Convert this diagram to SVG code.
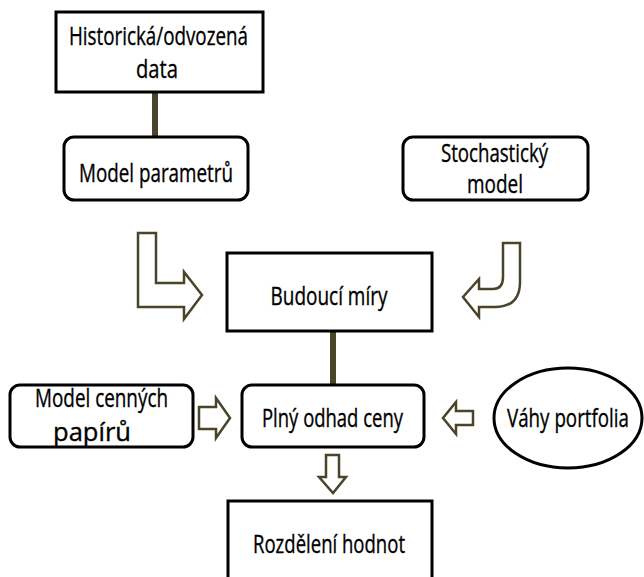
<svg xmlns="http://www.w3.org/2000/svg" width="644" height="577" viewBox="0 0 644 577">
<style>
  .box { fill: #ffffff; stroke: #000000; stroke-width: 3; }
  .t { font-family: "Open Sans", "Liberation Sans", sans-serif; font-size: 25px; fill: #000000; stroke: #000000; stroke-width: 0.35; text-anchor: middle; }
  .link { stroke: #4a452a; stroke-width: 6; fill: none; }
  .arr { fill: #ffffff; stroke: #4a452a; stroke-width: 2.5; stroke-linejoin: miter; }
</style>
<rect width="644" height="577" fill="#ffffff"/>

<g id="connectors">
  <line class="link" x1="155" y1="92" x2="155" y2="137"/>
  <line class="link" x1="333" y1="331" x2="333" y2="384"/>
  <path id="arrow-left-L" class="arr" d="M138,233 L156,233 L156,283 L184,283 L184,272 L202,295 L184,319 L184,307 L138,307 Z"/>
  <path id="arrow-right-J" class="arr" d="M503,243 L520,243 L520,282 Q520,307 495,307 L479,307 L479,317 L463,297 L479,279 L479,289 L493,289 Q503,289 503,277 Z"/>
  <path id="arrow-cenne" class="arr" d="M199,407 L216,407 L216,398 L230,418 L216,438 L216,429 L199,429 Z"/>
  <path id="arrow-vahy" class="arr" d="M473,411 L456,411 L456,402 L443,418 L456,434 L456,425 L473,425 Z"/>
  <path id="arrow-down" class="arr" d="M326,455 L339,455 L339,477 L346,477 L333,493 L319,477 L326,477 Z"/>
</g>

<g id="node-historicka">
  <rect class="box" x="56" y="12" width="207" height="80"/>
  <text class="t" x="158.5" y="45" font-size="26" textLength="179" lengthAdjust="spacingAndGlyphs">Historická/odvozená</text>
  <text class="t" x="157" y="78" font-size="26" textLength="42" lengthAdjust="spacingAndGlyphs">data</text>
</g>

<g id="node-model-parametru">
  <rect class="box" x="64" y="137" width="184" height="63" rx="10" ry="10"/>
  <text class="t" x="156" y="182" textLength="154" lengthAdjust="spacingAndGlyphs">Model parametrů</text>
</g>

<g id="node-stochasticky">
  <rect class="box" x="403" y="137" width="185" height="63" rx="10" ry="10"/>
  <text class="t" x="494.5" y="162" textLength="107" lengthAdjust="spacingAndGlyphs">Stochastický</text>
  <text class="t" x="495" y="193" textLength="56" lengthAdjust="spacingAndGlyphs">model</text>
</g>

<g id="node-budouci">
  <rect class="box" x="227" y="253" width="205" height="78"/>
  <text class="t" x="329" y="305" textLength="117" lengthAdjust="spacingAndGlyphs">Budoucí míry</text>
</g>

<g id="node-model-cennych">
  <rect class="box" x="10" y="385" width="183" height="62" rx="10" ry="10"/>
  <text class="t" x="101.5" y="407" textLength="133" lengthAdjust="spacingAndGlyphs">Model cenných</text>
  <text class="t" x="92" y="441" font-size="23" textLength="78" lengthAdjust="spacingAndGlyphs">papírů</text>
</g>

<g id="node-plny-odhad">
  <rect class="box" x="242" y="385" width="182" height="62" rx="10" ry="10"/>
  <text class="t" x="332.5" y="427" textLength="141" lengthAdjust="spacingAndGlyphs">Plný odhad ceny</text>
</g>

<g id="node-vahy">
  <ellipse class="box" cx="568" cy="418" rx="74" ry="50"/>
  <text class="t" x="568" y="427" textLength="122" lengthAdjust="spacingAndGlyphs">Váhy portfolia</text>
</g>

<g id="node-rozdeleni">
  <rect class="box" x="228" y="501" width="204" height="90"/>
  <text class="t" x="329" y="553" textLength="152" lengthAdjust="spacingAndGlyphs">Rozdělení hodnot</text>
</g>
</svg>
